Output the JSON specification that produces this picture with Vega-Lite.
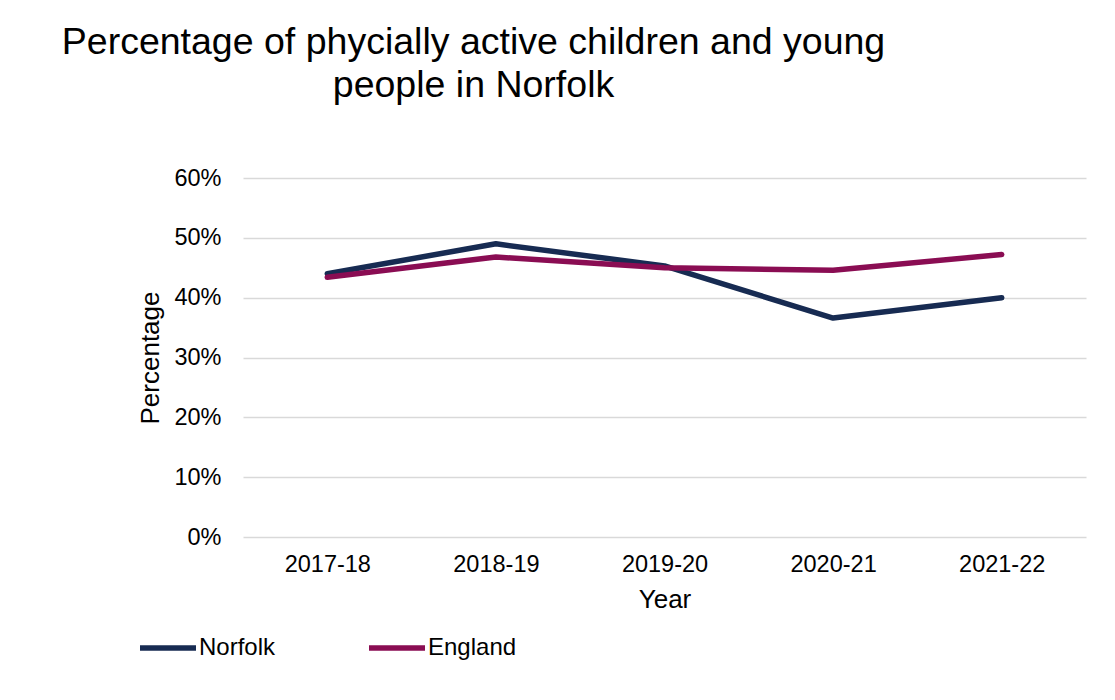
{
  "$schema": "https://vega.github.io/schema/vega-lite/v6.json",
  "autosize": "none",
  "width": 843,
  "height": 359,
  "padding": {"left": 243, "top": 178, "right": 29, "bottom": 163},
  "background": "white",
  "title": {
    "text": ["Percentage of phycially active children and young", "people in Norfolk"],
    "anchor": "middle",
    "dx": -191,
    "offset": 62,
    "fontSize": 37.5,
    "font": "Liberation Sans",
    "fontWeight": "normal",
    "color": "#000000",
    "lineHeight": 43
  },
  "data": {
    "values": [
      {"Year": "2017-18", "Area": "Norfolk", "Value": 0.440},
      {"Year": "2018-19", "Area": "Norfolk", "Value": 0.490},
      {"Year": "2019-20", "Area": "Norfolk", "Value": 0.453},
      {"Year": "2020-21", "Area": "Norfolk", "Value": 0.366},
      {"Year": "2021-22", "Area": "Norfolk", "Value": 0.400},
      {"Year": "2017-18", "Area": "England", "Value": 0.434},
      {"Year": "2018-19", "Area": "England", "Value": 0.468},
      {"Year": "2019-20", "Area": "England", "Value": 0.450},
      {"Year": "2020-21", "Area": "England", "Value": 0.446},
      {"Year": "2021-22", "Area": "England", "Value": 0.472}
    ]
  },
  "mark": {"type": "line", "strokeWidth": 5.5, "strokeCap": "round", "strokeJoin": "round"},
  "encoding": {
    "x": {
      "field": "Year",
      "type": "ordinal",
      "scale": {"type": "point", "padding": 0.5},
      "axis": {
        "title": "Year",
        "labelAngle": 0,
        "ticks": false,
        "domain": false,
        "grid": false,
        "labelPadding": 15,
        "titlePadding": 11
      }
    },
    "y": {
      "field": "Value",
      "type": "quantitative",
      "scale": {"domain": [0, 0.6]},
      "axis": {
        "title": "Percentage",
        "format": ".0%",
        "values": [0, 0.1, 0.2, 0.3, 0.4, 0.5, 0.6],
        "ticks": false,
        "domain": false,
        "grid": true,
        "gridColor": "#d9d9d9",
        "gridWidth": 1.5,
        "labelPadding": 22,
        "titlePadding": 10
      }
    },
    "color": {
      "field": "Area",
      "type": "nominal",
      "scale": {"domain": ["Norfolk", "England"], "range": ["#172b52", "#8a0d53"]},
      "legend": {
        "title": null,
        "orient": "none",
        "direction": "horizontal",
        "legendX": -106,
        "legendY": 439,
        "symbolType": "stroke",
        "symbolSize": 3136,
        "symbolStrokeWidth": 5.5,
        "labelOffset": 0,
        "columnPadding": 82
      }
    }
  },
  "config": {
    "font": "Liberation Sans",
    "view": {"stroke": null},
    "axis": {
      "labelFont": "Liberation Sans",
      "titleFont": "Liberation Sans",
      "labelFontSize": 23.5,
      "titleFontSize": 26,
      "labelColor": "#000000",
      "titleColor": "#000000",
      "titleFontWeight": "normal"
    },
    "legend": {
      "labelFont": "Liberation Sans",
      "labelFontSize": 24,
      "labelColor": "#000000"
    }
  }
}
